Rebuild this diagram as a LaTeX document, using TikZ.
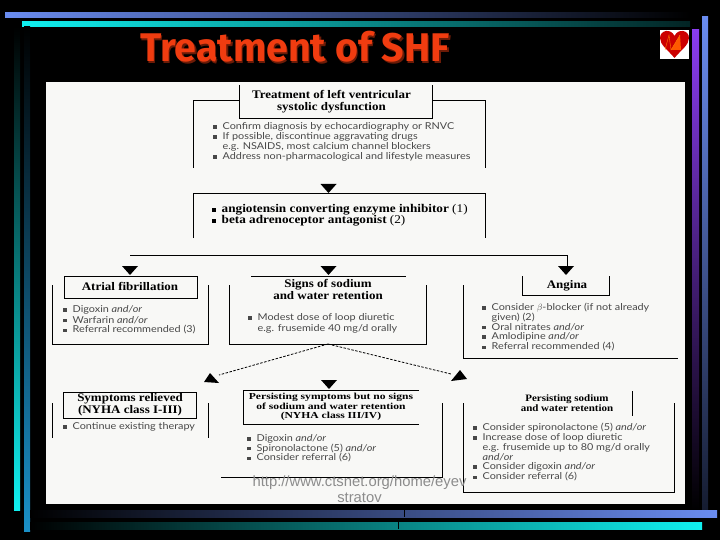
\documentclass[tikz,border=0pt]{standalone}
\usepackage{fontspec}
\setmainfont[FakeStretch=1.14]{Lato}
\newfontfamily\headfont[FakeStretch=1.12]{Liberation Serif}
\newfontfamily\wideheadfont[FakeStretch=1.26]{Liberation Serif}
\newfontfamily\titlefont{Fira Sans}
\newfontfamily\urlfont{Liberation Sans}
\definecolor{panel}{HTML}{F8F8F6}
\definecolor{barblue}{HTML}{6A8CF0}
\definecolor{barcyan}{HTML}{10F0F0}
\definecolor{barteal}{HTML}{1A90C8}
\definecolor{barpurple}{HTML}{8A3CF0}
\definecolor{titlered}{HTML}{F03C10}
\definecolor{bodygray}{HTML}{484848}
\newcommand{\bl}{\makebox[9.5pt][l]{\rule[1pt]{3.4pt}{3.4pt}}}
\tikzset{
  rule/.style={draw=black,line width=0.8pt},
  bodytext/.style={anchor=west,inner sep=0pt,text=bodygray,font=\fontsize{9.5}{11}\selectfont},
  headtext/.style={inner sep=0pt,align=center,font=\headfont\bfseries\fontsize{11.6}{10.5}\selectfont},
  titletext/.style={anchor=base west,inner sep=0pt,xscale=0.985,font=\titlefont\bfseries\fontsize{40}{40}\selectfont},
  boldtext/.style={anchor=west,inner sep=0pt,font=\headfont\bfseries\fontsize{11.8}{11}\selectfont},
  dashline/.style={line width=0.8pt,dash pattern=on 2.5pt off 1.5pt},
}
\begin{document}
\begin{tikzpicture}[x=1pt,y=-1pt]
\useasboundingbox (0,0) rectangle (720,540);
\fill[black] (0,0) rectangle (720,540);
% bars round the slide
\shade[left color=barblue,right color=black] (5,13) rectangle (690,18);
\shade[left color=barcyan,right color=black!85!barcyan] (22,22) rectangle (690,27);
\shade[top color=black,bottom color=barcyan] (14,27) rectangle (20,510);
\shade[top color=black,bottom color=barteal] (24,27) rectangle (30,531);
\shade[top color=barblue,bottom color=black!80!barblue] (702,17) rectangle (708,510);
\shade[top color=barpurple,bottom color=black] (692,30) rectangle (699,510);
\shade[left color=black,right color=barblue] (30,510) rectangle (717,517);
\shade[left color=black,right color=barcyan] (30,522) rectangle (702,529);
\draw[black] (404,510)--(404,517) (398,522)--(398,529);
% title and heart
\node[titletext,text=black!55!titlered] (titleshadow) at (141.5,63.5) {Treatment of SHF};
\node[titletext,text=titlered] (title) at (140,62) {Treatment of SHF};
\fill[white] (660,30) rectangle (689,59);
\fill[red!80!black] (674.5,58)..controls (668,50) and (660,45) .. (660,38)..controls (660,30) and (671,28) .. (674.5,36)..controls (678,28) and (689,30) .. (689,38)..controls (689,45) and (681,50) .. (674.5,58)--cycle;
\fill[orange!70!red] (671,50)--(680,35)--(681,50)--cycle;
\draw[orange] (665,50)--(669,35)--(671,50)--(680,35);
% panel
\fill[panel] (46,82) rectangle (685,504);
% top boxes
\draw[rule] (239,85)--(239,118)--(432,118)--(432,85);
\draw[rule] (193,168)--(193,100)--(239,100) (432,100)--(485,100)--(485,168);
\draw[rule] (193,238)--(193,193)--(485,193)--(485,238);
\node[headtext] (lvsd) at (331.5,101.5) {Treatment of left ventricular\\[1pt]systolic dysfunction};
\node[bodytext] (lvsd1) at (213,127) {\bl Confirm diagnosis by echocardiography or RNVC};
\node[bodytext] (lvsd2) at (213,137) {\bl If possible, discontinue aggravating drugs};
\node[bodytext] (lvsd3) at (222.5,147) {e.g. NSAIDS, most calcium channel blockers};
\node[bodytext] (lvsd4) at (213,157) {\bl Address non-pharmacological and lifestyle measures};
\node[boldtext] (ace) at (212,210) {\bl angiotensin converting enzyme inhibitor \mdseries(1)};
\node[boldtext] (beta) at (212,221) {\bl beta adrenoceptor antagonist \mdseries(2)};
% branch line and arrow heads
\coordinate (branchl) at (130,255);
\coordinate (branchr) at (567,255);
\coordinate (anginatop) at (567,266);
\draw[rule] (branchl)--(branchr)--(anginatop);
\foreach \x/\y in {328.5/193,130/275,328.5/275,566/275,329/389}
  \fill[black] (\x-8,\y-9)--(\x+8,\y-9)--(\x,\y)--cycle;
% middle row
\draw[rule] (64,276) rectangle (197,298);
\draw[rule] (52,285)--(52,344)--(208,344)--(208,285);
\node[headtext] (af) at (130,286) {Atrial fibrillation};
\node[bodytext] (af1) at (63,310) {\bl Digoxin \textit{and/or}};
\node[bodytext] (af2) at (63,320) {\bl Warfarin \textit{and/or}};
\node[bodytext] (af3) at (63,330) {\bl Referral recommended (3)};
\draw[rule] (251,276)--(406,276);
\draw[rule] (229,285)--(229,344)--(426,344)--(426,285);
\node[headtext] (na) at (328,289.5) {Signs of sodium\\[0.5pt]and water retention};
\node[bodytext] (na1) at (248,318) {\bl Modest dose of loop diuretic};
\node[bodytext] (na2) at (257.5,329) {e.g. frusemide 40 mg/d orally};
\draw[rule] (522,276)--(522,295)--(609,295)--(609,276);
\draw[rule] (463,285)--(463,358)--(678,358);
\node[headtext] (ang) at (567,286) {Angina};
\node[bodytext] (ang1) at (482,308) {\bl Consider $\beta$-blocker (if not already};
\node[bodytext] (ang2) at (491.5,317.5) {given) (2)};
\node[bodytext] (ang3) at (482,327) {\bl Oral nitrates \textit{and/or}};
\node[bodytext] (ang4) at (482,337) {\bl Amlodipine \textit{and/or}};
\node[bodytext] (ang5) at (482,347) {\bl Referral recommended (4)};
% dashed branches
\coordinate (nabot) at (328,344);
\coordinate (relievedtip) at (219,375);
\coordinate (sodiumtip) at (451,374);
\draw[dashline] (nabot)--(relievedtip);
\draw[dashline] (nabot)--(sodiumtip);
\fill[black] (210,373)--(219,383)--(204,382)--cycle;
\fill[black] (460,370)--(467,379)--(451,381)--cycle;
% bottom row
\draw[rule] (63,392) rectangle (196,418);
\draw[rule] (52,403)--(52,438) (208,403)--(208,438);
\node[headtext] (rel) at (130,404.5) {Symptoms relieved\\(NYHA class I-III)};
\node[bodytext] (rel1) at (63,427) {\bl Continue existing therapy};
\draw[rule] (419,390)--(243,390)--(243,424)--(419,424);
\draw[rule] (442,403)--(442,477)--(221,477);
\node[headtext,font=\wideheadfont\bfseries\fontsize{9.2}{9.6}\selectfont] (per) at (331,407) {Persisting symptoms but no signs\\of sodium and water retention\\(NYHA class III/IV)};
\node[bodytext] (per1) at (247,439) {\bl Digoxin \textit{and/or}};
\node[bodytext] (per2) at (247,448.5) {\bl Spironolactone (5) \textit{and/or}};
\node[bodytext] (per3) at (247,458) {\bl Consider referral (6)};
\draw[rule] (463,403)--(463,492)--(674,492)--(674,403);
\draw[rule] (632,391)--(632,416);
\node[headtext,font=\headfont\bfseries\fontsize{9.8}{10}\selectfont] (sod) at (567,403) {Persisting sodium\\and water retention};
\node[bodytext] (sod1) at (473,428) {\bl Consider spironolactone (5) \textit{and/or}};
\node[bodytext] (sod2) at (473,438) {\bl Increase dose of loop diuretic};
\node[bodytext] (sod3) at (482.5,448) {e.g. frusemide up to 80 mg/d orally};
\node[bodytext] (sod4) at (482.5,457.5) {\textit{and/or}};
\node[bodytext] (sod5) at (473,467) {\bl Consider digoxin \textit{and/or}};
\node[bodytext] (sod6) at (473,477) {\bl Consider referral (6)};
% link printed over the panel
\node[text=black!45,inner sep=0pt,align=center,font=\urlfont\fontsize{14.8}{16}\selectfont] (url) at (359.5,489.5) {http://www.ctsnet.org/home/eyev\\stratov};
\end{tikzpicture}
\end{document}
